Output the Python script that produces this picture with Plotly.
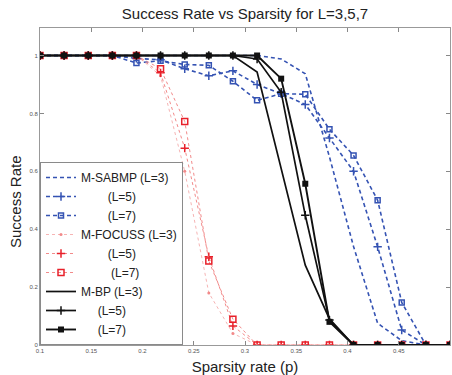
import plotly.graph_objects as go

# Sparsity rate sample points
p = [0.1, 0.1235, 0.1471, 0.1706, 0.1941, 0.2176, 0.2412, 0.2647, 0.2882,
     0.3118, 0.3353, 0.3588, 0.3824, 0.4059, 0.4294, 0.4529, 0.4765, 0.5]

sabmp_L3 = [1, 1, 1, 1, 1, 1, 1, 1, 1, 1, 0.988, 0.937, 0.65, 0.34, 0.075, 0.015, 0, 0]
sabmp_L5 = [1, 1, 1, 1, 0.99, 0.985, 0.954, 0.93, 0.947, 0.9, 0.868, 0.831, 0.715, 0.6, 0.339, 0.052, 0, 0]
sabmp_L7 = [1, 1, 1, 1, 0.974, 0.982, 0.969, 0.966, 0.911, 0.845, 0.868, 0.866, 0.745, 0.655, 0.5, 0.147, 0, 0]

focuss_L3 = [1, 1, 1, 1, 1, 0.93, 0.6, 0.18, 0.04, 0, 0, 0, 0, 0, 0, 0, 0, 0]
focuss_L5 = [1, 1, 1, 1, 1, 0.94, 0.68, 0.305, 0.066, 0, 0, 0, 0, 0, 0, 0, 0, 0]
focuss_L7 = [1, 1, 1, 1, 1, 0.954, 0.772, 0.29, 0.089, 0, 0, 0, 0, 0, 0, 0, 0, 0]

bp_L3 = [1, 1, 1, 1, 1, 1, 1, 1, 1, 0.943, 0.61, 0.276, 0.09, 0, 0, 0, 0, 0]
bp_L5 = [1, 1, 1, 1, 1, 1, 1, 1, 1, 0.988, 0.873, 0.448, 0.086, 0, 0, 0, 0, 0]
bp_L7 = [1, 1, 1, 1, 1, 1, 1, 1, 1, 1, 0.92, 0.557, 0.08, 0, 0, 0, 0, 0]

names = ["M-SABMP (L=3)", "\u00a0" * 8 + "(L=5)", "\u00a0" * 8 + "(L=7)",
         "M-FOCUSS (L=3)", "\u00a0" * 8 + "(L=5)", "\u00a0" * 9 + "(L=7)",
         "M-BP (L=3)", "\u00a0" * 5 + "(L=5)", "\u00a0" * 5 + "(L=7)"]

x_ticks = [0.1, 0.15, 0.2, 0.25, 0.3, 0.35, 0.4, 0.45, 0.5]
x_ticktext = ["0.1", "0.15", "0.2", "0.25", "0.3", "0.35", "0.4", "0.45", "0.5"]
y_ticks = [0, 0.2, 0.4, 0.6, 0.8, 1]
y_ticktext = ["0", "0.2", "0.4", "0.6", "0.8", "1"]

BLUE = "#3553b3"
RED = "#e8202a"
PINK = "#f28a8a"
LPINK = "#f6b4b4"
BLACK = "#111111"
DASH = "4px,3px"

fig = go.Figure()

fig.add_trace(go.Scatter(x=p, y=sabmp_L3, name=names[0], mode="lines",
                         line=dict(color=BLUE, dash=DASH, width=1.6)))
fig.add_trace(go.Scatter(x=p, y=sabmp_L5, name=names[1], mode="lines+markers",
                         line=dict(color=BLUE, dash=DASH, width=1.6),
                         marker=dict(symbol="cross-thin", size=6, color=BLUE,
                                     line=dict(color=BLUE, width=1.5))))
fig.add_trace(go.Scatter(x=p, y=sabmp_L7, name=names[2], mode="lines+markers",
                         line=dict(color=BLUE, dash=DASH, width=1.6),
                         marker=dict(symbol="square-open", size=5, color=BLUE,
                                     line=dict(color=BLUE, width=1.5))))

fig.add_trace(go.Scatter(x=p, y=focuss_L3, name=names[3], mode="lines+markers",
                         line=dict(color=LPINK, dash="dot", width=1),
                         marker=dict(symbol="circle", size=3, color=PINK)))
fig.add_trace(go.Scatter(x=p, y=focuss_L5, name=names[4], mode="lines+markers",
                         line=dict(color=PINK, dash="dot", width=1),
                         marker=dict(symbol="cross-thin", size=6, color=RED,
                                     line=dict(color=RED, width=1.5))))
fig.add_trace(go.Scatter(x=p, y=focuss_L7, name=names[5], mode="lines+markers",
                         line=dict(color=PINK, dash="dot", width=1),
                         marker=dict(symbol="square-open", size=6, color=RED,
                                     line=dict(color=RED, width=1.5))))

fig.add_trace(go.Scatter(x=p, y=bp_L3, name=names[6], mode="lines",
                         line=dict(color=BLACK, width=1.7)))
fig.add_trace(go.Scatter(x=p, y=bp_L5, name=names[7], mode="lines+markers",
                         line=dict(color=BLACK, width=1.7),
                         marker=dict(symbol="cross-thin", size=6, color=BLACK,
                                     line=dict(color=BLACK, width=1.5))))
fig.add_trace(go.Scatter(x=p, y=bp_L7, name=names[8], mode="lines+markers",
                         line=dict(color=BLACK, width=1.9),
                         marker=dict(symbol="square", size=6, color=BLACK)))

FONT = "Liberation Sans, Arial, sans-serif"

fig.update_layout(
    width=452, height=375,
    margin=dict(l=40, r=2, t=28, b=30, autoexpand=False),
    paper_bgcolor="white", plot_bgcolor="white",
    font=dict(family=FONT, color="#222222"),
    title=dict(text="Success Rate vs Sparsity for L=3,5,7", x=245 / 452, xanchor="center",
               xref="container", y=1 - 14 / 375, yanchor="middle",
               font=dict(size=15, color="#222222")),
    showlegend=True,
    legend=dict(x=0, y=0, xanchor="left", yanchor="bottom",
                bgcolor="white", bordercolor="#8a8a8a", borderwidth=1,
                font=dict(size=12, color="#222222"), itemwidth=30,
                tracegroupgap=0),
    annotations=[dict(text="Success Rate", textangle=-90, showarrow=False,
                      xref="paper", yref="paper", x=(16 - 40) / 410, y=(345 - 202) / 317,
                      xanchor="center", yanchor="middle",
                      font=dict(size=15, color="#222222"))],
)

fig.update_xaxes(range=[0.1, 0.5], tickvals=x_ticks, ticktext=x_ticktext,
                 ticks="inside", ticklen=4, tickcolor="#888888",
                 showline=True, linecolor="#999999", linewidth=1, mirror="ticks",
                 showgrid=False, zeroline=False, automargin=False,
                 tickfont=dict(size=6, color="#555555"),
                 title=dict(text="Sparsity rate (p)", font=dict(size=15, color="#222222")))
fig.update_yaxes(range=[0, 1.095], tickvals=y_ticks, ticktext=y_ticktext,
                 ticks="inside", ticklen=4, tickcolor="#888888",
                 showline=True, linecolor="#999999", linewidth=1, mirror="ticks",
                 showgrid=False, zeroline=False, automargin=False,
                 tickfont=dict(size=6, color="#555555"))

fig.write_html("out.html", config={"displayModeBar": False},
               post_script="document.body.style.margin='0';document.body.style.overflow='hidden';")
